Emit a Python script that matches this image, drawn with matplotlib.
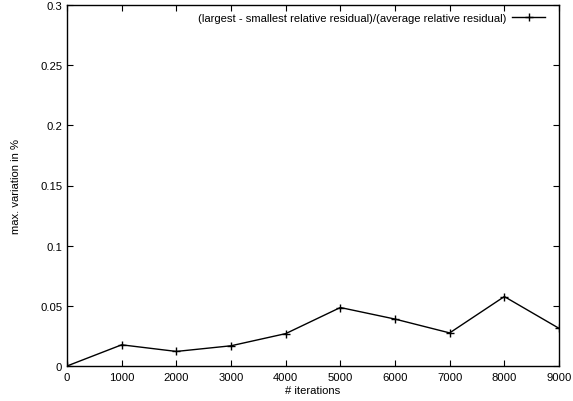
import matplotlib
matplotlib.use("Agg")
import matplotlib.pyplot as plt

plt.rcParams['font.family'] = ['Liberation Sans', 'DejaVu Sans']

# data
iterations = [0, 1000, 2000, 3000, 4000, 5000, 6000, 7000, 8000, 9000]
variation = [0.0, 0.0176, 0.0121, 0.0168, 0.0269, 0.0486, 0.0390, 0.0275, 0.0577, 0.0313]
series_label = '(largest - smallest relative residual)/(average relative residual)'
xticks = [0, 1000, 2000, 3000, 4000, 5000, 6000, 7000, 8000, 9000]
yticks = [0, 0.05, 0.1, 0.15, 0.2, 0.25, 0.3]
ytick_labels = ['0', '0.05', '0.1', '0.15', '0.2', '0.25', '0.3']

fig = plt.figure(figsize=(5.73, 4.02), dpi=100)
ax = fig.add_axes([67/573, 1-367/402, (559-67)/573, (367-6)/402])

ax.plot(iterations, variation, color='black', linewidth=1.0,
        marker='+', markersize=6, markeredgewidth=1.0, label=series_label)

ax.set_xlim(0, 9000)
ax.set_ylim(0, 0.3)
ax.set_xticks(xticks)
ax.set_yticks(yticks)
ax.set_yticklabels(ytick_labels)
ax.tick_params(direction='in', length=4, width=0.8, labelsize=8.1,
               top=True, right=True)
ax.tick_params(axis='y', pad=3.5)
ax.tick_params(axis='x', pad=4.5)
for s in ax.spines.values():
    s.set_linewidth(1.0)

ax.set_xlabel('# iterations', fontsize=8.1, labelpad=2)
ax.set_ylabel('max. variation in %', fontsize=8.1, labelpad=14)

leg = ax.legend(loc='upper right', frameon=False, fontsize=8.1,
                markerfirst=False, handlelength=2.9, borderaxespad=0,
                handletextpad=0.55,
                bbox_to_anchor=(1 - 9.6/492, 1 - 3/361))

fig.savefig('out.png', dpi=100)
